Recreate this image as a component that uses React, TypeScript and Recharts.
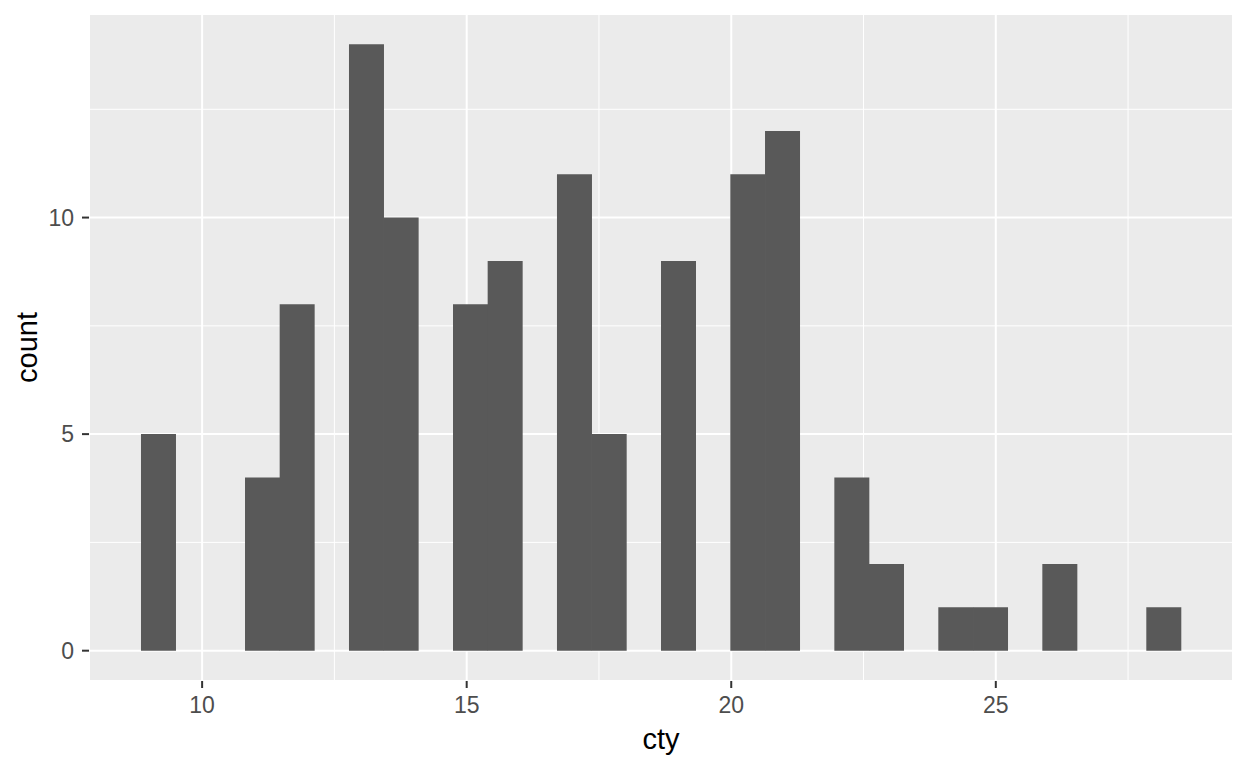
import React from "react";
import { Bar, BarChart, CartesianGrid, Label, XAxis, YAxis } from "recharts";

// histogram of cty, 30 bins (ggplot2 default binning)
const binCenters = [
  9.172, 9.827, 10.482, 11.138, 11.793, 12.448, 13.103, 13.758, 14.414, 15.069,
  15.724, 16.379, 17.034, 17.69, 18.345, 19.0, 19.655, 20.31, 20.966, 21.621,
  22.276, 22.931, 23.586, 24.241, 24.897, 25.552, 26.207, 26.862, 27.517, 28.172,
];
const counts = [
  5, 0, 0, 4, 8, 0, 14, 10, 0, 8,
  9, 0, 11, 5, 0, 9, 0, 11, 12, 0,
  4, 2, 0, 1, 1, 0, 2, 0, 0, 1,
];
const xMajorTicks = [10, 15, 20, 25];
const xMinorTicks = [12.5, 17.5, 22.5, 27.5];
const yMajorTicks = [0, 5, 10];
const yMinorTicks = [2.5, 7.5, 12.5];
const xDomain: [number, number] = [7.862, 29.483];
const yDomain: [number, number] = [-0.7, 14.7];

const data = binCenters.map((x, i) => ({ x, count: counts[i] }));

const font = "'Liberation Sans', Arial, sans-serif";
const tickStyle = { fill: "#4D4D4D", fontSize: 23, fontFamily: font };

export default function App() {
  return (
    <div style={{ position: "fixed", left: 0, top: 0, background: "#FFFFFF" }}>
      <BarChart
        width={1248}
        height={768}
        data={data}
        barCategoryGap={0}
        barGap={0}
        margin={{ top: 14, right: 15, left: 0, bottom: 0 }}
      >
        <XAxis xAxisId="minor" type="number" dataKey="x" domain={xDomain} ticks={xMinorTicks} allowDataOverflow hide />
        <YAxis yAxisId="minor" type="number" domain={yDomain} ticks={yMinorTicks} allowDataOverflow hide />
        <CartesianGrid xAxisId="minor" yAxisId="minor" fill="#EBEBEB" fillOpacity={1} stroke="#FFFFFF" strokeWidth={1} />
        <CartesianGrid fill="none" stroke="#FFFFFF" strokeWidth={2} />
        <XAxis
          type="number"
          dataKey="x"
          domain={xDomain}
          ticks={xMajorTicks}
          allowDataOverflow
          height={87}
          axisLine={false}
          tickLine={{ stroke: "#333333", strokeWidth: 2 }}
          tickSize={7}
          tickMargin={9}
          tick={tickStyle}
        >
          <Label value="cty" position="insideBottom" offset={19} style={{ fill: "#000000", fontSize: 29, fontFamily: font }} />
        </XAxis>
        <YAxis
          type="number"
          domain={yDomain}
          ticks={yMajorTicks}
          allowDataOverflow
          width={89}
          axisLine={false}
          tickLine={{ stroke: "#333333", strokeWidth: 2 }}
          tickSize={7}
          tickMargin={8}
          tick={tickStyle}
        >
          <Label
            value="count"
            angle={-90}
            position="insideLeft"
            offset={27}
            style={{ fill: "#000000", fontSize: 29, fontFamily: font, textAnchor: "middle" }}
          />
        </YAxis>
        <Bar dataKey="count" fill="#595959" isAnimationActive={false} />
      </BarChart>
    </div>
  );
}
